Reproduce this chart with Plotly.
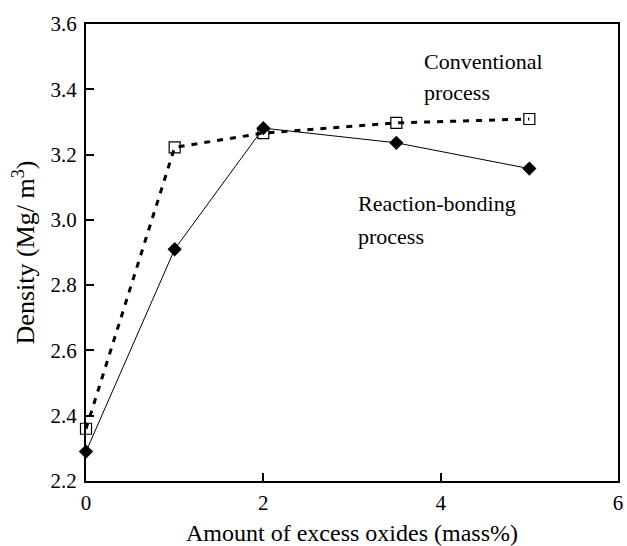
import plotly.graph_objects as go

x_conv = [0, 1, 2, 3.5, 5]
y_conv = [2.36, 3.222, 3.266, 3.297, 3.309]
x_react = [0, 1, 2, 3.5, 5]
y_react = [2.29, 2.91, 3.281, 3.236, 3.157]

x_ticks = [0, 2, 4, 6]
y_ticks = [2.2, 2.4, 2.6, 2.8, 3.0, 3.2, 3.4, 3.6]
y_tick_labels = ["2.2", "2.4", "2.6", "2.8", "3.0", "3.2", "3.4", "3.6"]

FONT = "Liberation Serif, Times New Roman, serif"

fig = go.Figure()
fig.add_trace(go.Scatter(
    x=x_react, y=y_react, mode="lines+markers",
    line=dict(color="black", width=1),
    marker=dict(symbol="diamond", size=11, color="black"),
    showlegend=False, cliponaxis=False))
fig.add_trace(go.Scatter(
    x=x_conv, y=y_conv, mode="lines+markers",
    line=dict(color="black", width=3, dash="6px,7px"),
    marker=dict(symbol="square-open", size=11, color="black", line=dict(width=1.2, color="black")),
    showlegend=False, cliponaxis=False))

annots = [
    ("Conventional", 3.79, 3.484),
    ("process", 3.79, 3.389),
    ("Reaction-bonding", 3.05, 3.05),
    ("process", 3.05, 2.948),
]
for t, ax, ay in annots:
    fig.add_annotation(x=ax, y=ay, text=t, showarrow=False, xanchor="left", yanchor="middle",
                       font=dict(family=FONT, size=22, color="black"))

fig.update_xaxes(range=[0, 6], tickvals=x_ticks, ticks="inside", ticklen=8, tickwidth=2,
                 tickcolor="black", showline=True, mirror=True, linecolor="black", linewidth=2,
                 showgrid=False, zeroline=False, ticklabeloverflow="allow", ticklabelstandoff=2,
                 tickfont=dict(family=FONT, size=21, color="black"),
                 title=dict(text="Amount of excess oxides (mass%)", font=dict(family=FONT, size=24, color="black"), standoff=10))
fig.update_yaxes(range=[2.2, 3.6], tickvals=y_ticks, ticktext=y_tick_labels, ticks="inside", ticklen=8, tickwidth=2,
                 tickcolor="black", showline=True, mirror=True, linecolor="black", linewidth=2,
                 showgrid=False, zeroline=False, ticklabelstandoff=3, ticklabeloverflow="allow",
                 tickfont=dict(family=FONT, size=21, color="black"),
                 title=dict(text="Density (Mg/ m<sup>3</sup>)", font=dict(family=FONT, size=26, color="black"), standoff=8))

fig.update_layout(width=627, height=546, margin=dict(l=86, r=4, t=24, b=64),
                  plot_bgcolor="white", paper_bgcolor="white")
fig.write_html("out.html")
